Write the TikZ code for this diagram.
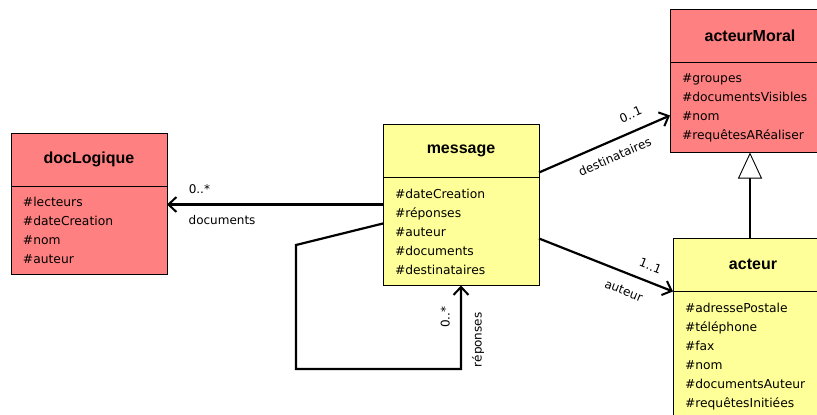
\documentclass[tikz,border=0pt]{standalone}
\usepackage{fontspec}
\setmainfont{DejaVu Sans}
\newfontfamily\headfont{Liberation Sans}
\usetikzlibrary{arrows.meta,positioning}
\definecolor{classred}{RGB}{255,128,128}
\definecolor{classyellow}{RGB}{255,255,153}

\begin{document}
\begin{tikzpicture}[
  x=1pt, y=-1pt,
  font=\fontsize{12.3}{19}\selectfont,
  classhead/.style={draw, line width=0.8pt, outer sep=0pt, inner sep=0pt, anchor=north west, minimum width=#1, minimum height=53.5pt, font=\headfont\bfseries\fontsize{16}{19}\selectfont},
  classbody/.style={draw, line width=0.8pt, outer sep=0pt, inner xsep=12pt, inner ysep=0pt, align=left, text width=#1},
  assoc/.style={-{Straight Barb[length=8pt,width=15pt,line width=2pt]}, line width=2.2pt},
  inherit/.style={-{Triangle[length=26pt,width=24pt,fill=white,line width=0.9pt]}, line width=2.8pt},
  lbl/.style={inner sep=1pt, sloped, font=\fontsize{12}{14}\selectfont}
]
\useasboundingbox (0,0) rectangle (817,415);
\clip (0,0) rectangle (817,415);

% classes
\node[classhead=156pt, fill=classred] (doc) at (11,133) {docLogique};
\node[classbody=132pt, fill=classred, below=0pt of doc, minimum height=88pt] (docattr) {\#lecteurs\\\#dateCreation\\\#nom\\\#auteur};

\node[classhead=156pt, fill=classyellow] (msg) at (383,124) {message};
\node[classbody=132pt, fill=classyellow, below=0pt of msg, minimum height=108pt] (msgattr) {\#dateCreation\\\#réponses\\\#auteur\\\#documents\\\#destinataires};

\node[classhead=160pt, fill=classred] (mor) at (670,9) {acteurMoral};
\node[classbody=136pt, fill=classred, below=0pt of mor, minimum height=90pt] (morattr) {\#groupes\\\#documentsVisibles\\\#nom\\\#requêtesARéaliser};

\node[classhead=160pt, fill=classyellow] (act) at (673,238) {acteur};
\node[classbody=136pt, fill=classyellow, below=0pt of act, minimum height=130pt] (actattr) {\#adressePostale\\\#téléphone\\\#fax\\\#nom\\\#documentsAuteur\\\#requêtesInitiées};

% associations
\draw[assoc] ([yshift=27pt]msgattr.west) -- node[lbl, pos=0.85, above=9pt] {0..*} node[lbl, pos=0.745, below=9pt] {documents} ([yshift=27pt]msgattr.west -| docattr.east);
\draw[assoc] ([yshift=5pt]msg.south east) -- node[lbl, pos=0.75, above=10pt] {0..1} node[lbl, pos=0.53, below=9pt] {destinataires} ([yshift=-8pt]morattr.west);
\draw[assoc] ([yshift=-7pt]msgattr.east) -- node[lbl, pos=0.79, above=9pt] {1..1} node[lbl, pos=0.68, below=11pt] {auteur} (act.south west);

% self association
\coordinate (loopa) at (296,245);
\coordinate (loopb) at (296,369);
\draw[assoc] ([yshift=8pt]msgattr.west) -- (loopa) -- (loopb) -- (loopb -| msgattr.south) -- node[lbl, pos=0.62, above=9pt] {0..*} node[lbl, pos=0.35, below=9pt] {réponses} (msgattr.south);

% generalisation
\draw[inherit] (act.north -| morattr.south) -- (morattr.south);
\end{tikzpicture}
\end{document}
